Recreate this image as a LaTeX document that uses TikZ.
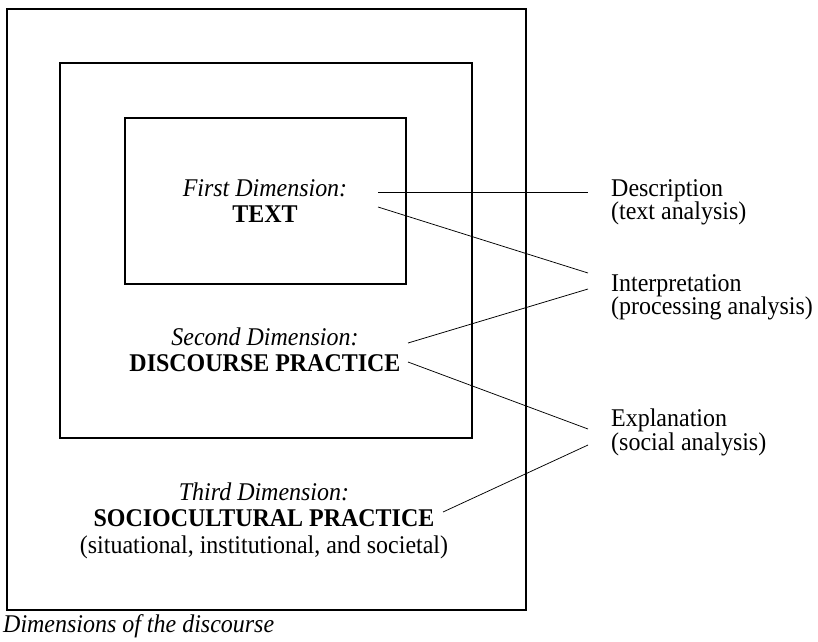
\documentclass[tikz,border=0pt]{standalone}
\usepackage{fontspec}
\setmainfont{Liberation Serif}[FakeStretch=0.94]
\begin{document}
\begin{tikzpicture}[x=1pt,y=-1pt,
  box/.style={line width=1.2pt},
  link/.style={line width=0.75pt},
  dimtext/.style={align=center,inner sep=0pt,font=\fontsize{25.5}{26.5}\selectfont},
  lbl/.style={align=left,inner sep=0pt,anchor=west,font=\fontsize{25.5}{23.5}\selectfont}]
\useasboundingbox (0,0) rectangle (818,641);
% the three nested dimensions
\draw[box] (7,9) rectangle (526,610);
\draw[box] (60,63) rectangle (472,438);
\draw[box] (125,118) rectangle (406,284);
\node[dimtext] (first) at (265,201) {\textit{First Dimension:}\\\textbf{TEXT}};
\node[dimtext] (second) at (265,350) {\textit{Second Dimension:}\\\textbf{DISCOURSE PRACTICE}};
\node[dimtext] (third) at (264,520.5) {\textit{Third Dimension:}\\\textbf{SOCIOCULTURAL PRACTICE}\\(situational, institutional, and societal)};
% kinds of analysis
\node[lbl] (desc) at (611,202.5) {Description\\(text analysis)};
\node[lbl] (interp) at (611,297.5) {Interpretation\\(processing analysis)};
\node[lbl] (expl) at (611,432.5) {Explanation\\(social analysis)};
\coordinate (tx1) at (378,192); \coordinate (tx2) at (378,207);
\coordinate (dp1) at (408,343); \coordinate (dp2) at (408,362);
\coordinate (sp1) at (443,512);
\coordinate (de1) at (588,192); \coordinate (in1) at (588,273); \coordinate (in2) at (588,289);
\coordinate (ex1) at (588,429); \coordinate (ex2) at (588,445);
\foreach \a/\b in {tx1/de1, tx2/in1, dp1/in2, dp2/ex1, sp1/ex2} { \draw[link] (\a) -- (\b); }
\node[font=\fontsize{25.5}{26}\selectfont\itshape,anchor=base west,inner sep=0pt] (caption) at (3,632) {Dimensions of the discourse};
\end{tikzpicture}
\end{document}
